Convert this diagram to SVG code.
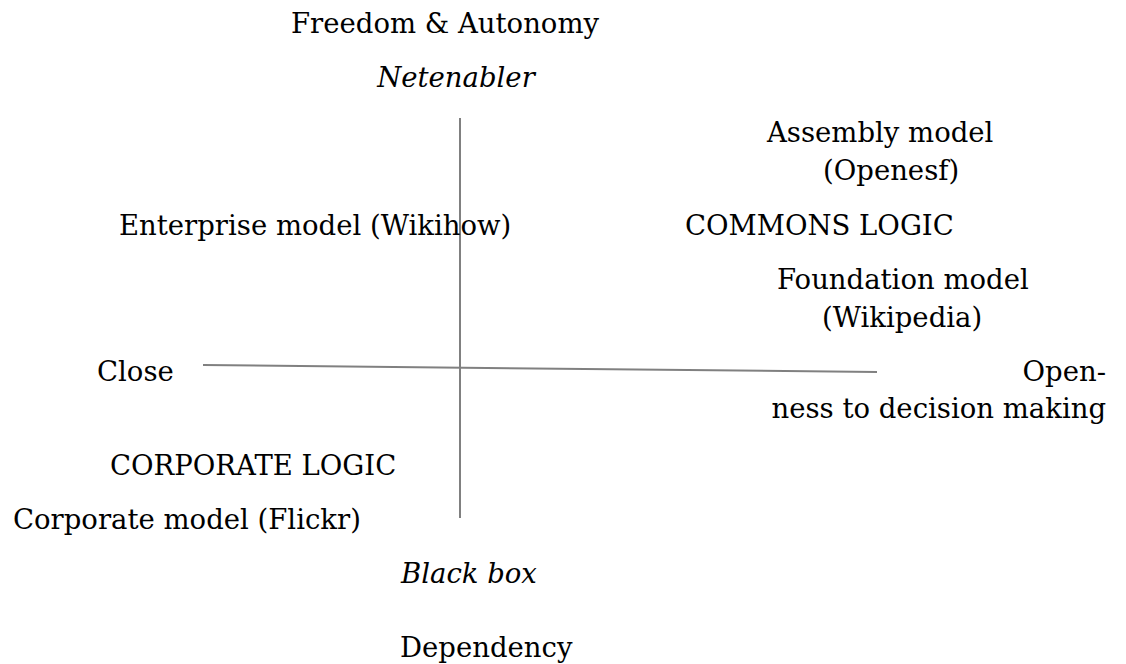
<svg xmlns="http://www.w3.org/2000/svg" width="1126" height="664" viewBox="0 0 1126 664">
<style>
text{font-family:"DejaVu Serif","Liberation Serif",serif;font-size:27.5px;fill:#000}
.i{font-style:italic}
.ax{stroke:#808080;stroke-width:2;fill:none}
</style>
<rect width="1126" height="664" fill="#fff"/>
<g id="connectors">
<line class="ax" x1="460" y1="118" x2="460" y2="518"/>
<line class="ax" x1="203" y1="365" x2="877" y2="372"/>
</g>
<g id="top"><text x="291" y="33">Freedom &amp; Autonomy</text></g>
<g id="netenabler"><text class="i" x="456" y="87" text-anchor="middle">Netenabler</text></g>
<g id="assembly"><text x="767" y="142">Assembly model</text><text x="823" y="180">(Openesf)</text></g>
<g id="enterprise"><text x="119" y="235">Enterprise model (Wikihow)</text></g>
<g id="commons"><text x="685" y="235">COMMONS LOGIC</text></g>
<g id="foundation"><text x="777" y="289">Foundation model</text><text x="822" y="327">(Wikipedia)</text></g>
<g id="close"><text x="97" y="381">Close</text></g>
<g id="openness"><text x="1106" y="381" text-anchor="end">Open-</text><text x="1106" y="418" text-anchor="end">ness to decision making</text></g>
<g id="corporate-logic"><text x="110" y="475">CORPORATE LOGIC</text></g>
<g id="corporate"><text x="13" y="529">Corporate model (Flickr)</text></g>
<g id="blackbox"><text class="i" x="401" y="583">Black box</text></g>
<g id="dependency"><text x="400" y="657">Dependency</text></g>
</svg>
